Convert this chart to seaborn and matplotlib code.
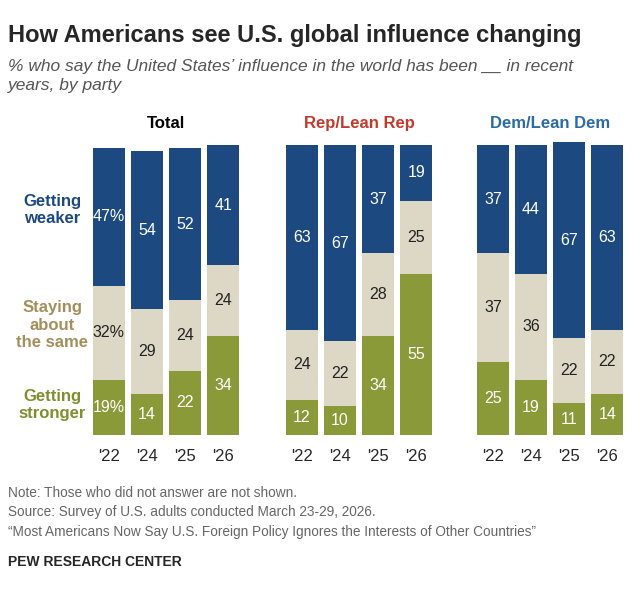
import matplotlib
matplotlib.use("Agg")
import matplotlib.pyplot as plt
import seaborn as sns

sns.set_style("white")
plt.rcParams['font.family'] = ['Liberation Sans', 'DejaVu Sans']

years = ["'22", "'24", "'25", "'26"]
groups = ["Total", "Rep/Lean Rep", "Dem/Lean Dem"]
stronger = {"Total": [19, 14, 22, 34], "Rep/Lean Rep": [12, 10, 34, 55], "Dem/Lean Dem": [25, 19, 11, 14]}
same = {"Total": [32, 29, 24, 24], "Rep/Lean Rep": [24, 22, 28, 25], "Dem/Lean Dem": [37, 36, 22, 22]}
weaker = {"Total": [47, 54, 52, 41], "Rep/Lean Rep": [63, 67, 37, 19], "Dem/Lean Dem": [37, 44, 67, 63]}

c_weak, c_same, c_strong = "#1c4a80", "#ddd7c6", "#8b9a39"
title_colors = {"Total": "black", "Rep/Lean Rep": "#c13a2c", "Dem/Lean Dem": "#2b6aa3"}

fig = plt.figure(figsize=(6.4, 5.97), dpi=100)
lefts = [0.1375, 0.439, 0.7375]

for g, left in zip(groups, lefts):
    ax = fig.add_axes([left, 0.271, 0.244, 0.491])
    x = list(range(4))
    s, m, w = stronger[g], same[g], weaker[g]
    kw = dict(width=0.85, linewidth=0)
    ax.bar(x, s, color=c_strong, **kw)
    ax.bar(x, m, bottom=s, color=c_same, **kw)
    ax.bar(x, w, bottom=[a + b for a, b in zip(s, m)], color=c_weak, **kw)
    for i in x:
        pct = "%" if (g == "Total" and i == 0) else ""
        ax.text(i, s[i] / 2, f"{s[i]}{pct}", ha="center", va="center", color="white", fontsize=11.5)
        ax.text(i, s[i] + m[i] / 2, f"{m[i]}{pct}", ha="center", va="center", color="#222222", fontsize=11.5)
        ax.text(i, s[i] + m[i] + w[i] / 2, f"{w[i]}{pct}", ha="center", va="center", color="white", fontsize=11.5)
    ax.set_xlim(-0.55, 3.55)
    ax.set_ylim(0, 100)
    ax.set_xticks(x)
    ax.set_xticklabels(years, fontsize=12)
    ax.tick_params(axis="x", length=0, pad=10)
    ax.set_yticks([])
    sns.despine(ax=ax, left=True, bottom=True)
    ax.set_title(g, fontsize=12, fontweight="bold", color=title_colors[g], pad=10)

fig.text(0.012, 0.94, "How Americans see U.S. global influence changing", fontsize=17, fontweight="bold", va="center")
fig.text(0.012, 0.873, "% who say the United States\u2019 influence in the world has been __ in recent\nyears, by party",
         fontsize=12.5, style="italic", color="#555555", va="center", linespacing=1.3)

fig.text(0.082, 0.648, "Getting\nweaker", ha="center", va="center", fontsize=12, fontweight="bold", color="#1c4a80")
fig.text(0.082, 0.455, "Staying\nabout\nthe same", ha="center", va="center", fontsize=12, fontweight="bold", color="#a48f5c")
fig.text(0.082, 0.322, "Getting\nstronger", ha="center", va="center", fontsize=12, fontweight="bold", color="#7f8e2e")

notes = ["Note: Those who did not answer are not shown.",
         "Source: Survey of U.S. adults conducted March 23-29, 2026.",
         "\u201cMost Americans Now Say U.S. Foreign Policy Ignores the Interests of Other Countries\u201d"]
for i, n in enumerate(notes):
    fig.text(0.012, 0.175 - i * 0.033, n, fontsize=9.8, color="#666666", va="center")
fig.text(0.012, 0.058, "PEW RESEARCH CENTER", fontsize=10, fontweight="bold", va="center")

fig.savefig("out.png", dpi=100)
